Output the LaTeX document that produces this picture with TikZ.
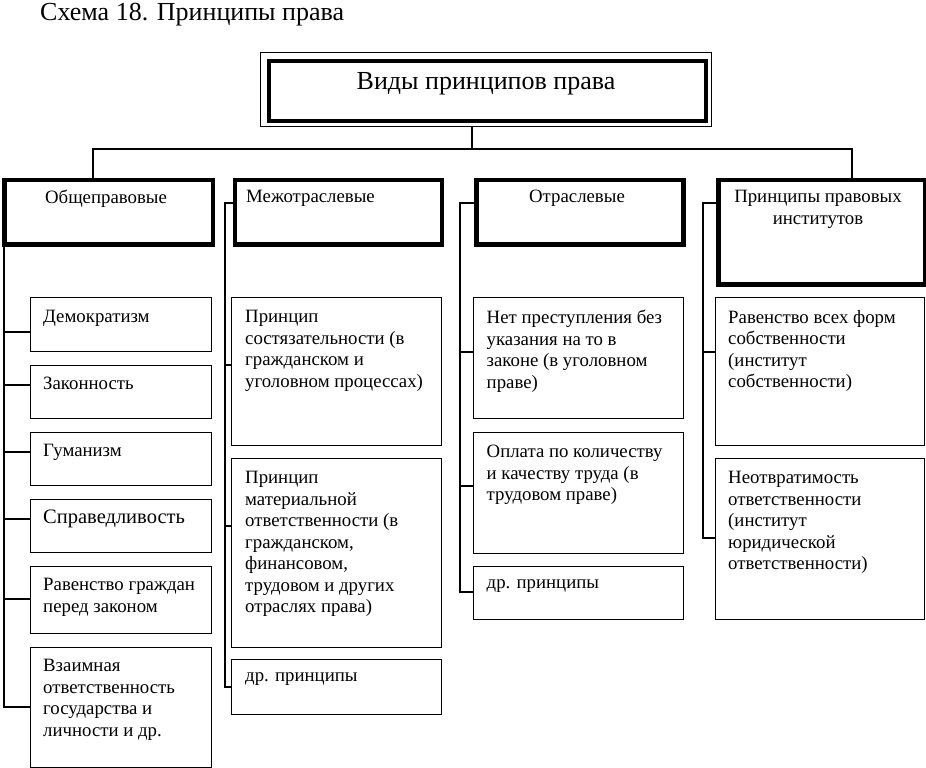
\documentclass[tikz,border=0pt]{standalone}
\usepackage{fontspec}
\setmainfont{Liberation Serif}
\usetikzlibrary{calc}
\tikzset{
  thinbox/.style={draw, line width=1.4pt, minimum width=#1, anchor=north west, inner sep=0pt},
  thickbox/.style={draw, line width=4.5pt, anchor=north west, inner sep=0pt},
  txt/.style={anchor=north west, inner sep=0pt, align=left, font=\fontsize{18.8}{21.5}\selectfont},
  ctxt/.style={anchor=north, inner sep=0pt, align=center, font=\fontsize{18.8}{21.5}\selectfont},
  conn/.style={line width=1.3pt},
}
\begin{document}
\begin{tikzpicture}[x=1pt,y=-1pt]
\useasboundingbox (0,0) rectangle (926,768);
% title
\node[anchor=north west, inner sep=0pt, font=\fontsize{26}{30}\selectfont] (title) at (40,3.5) {Схема 18. Принципы права};
% root
\node[draw, line width=1.2pt, anchor=north west, minimum width=451pt, minimum height=73.5pt, inner sep=0pt] (rootout) at (260,52.3) {};
\node[draw, line width=4pt, anchor=north west, minimum width=437.3pt, minimum height=60pt, inner sep=0pt] (root) at (267,58.7) {};
\node[anchor=center, inner sep=0pt, font=\fontsize{26}{30}\selectfont] (roottxt) at (486,84) {Виды принципов права};
% level 2
\node[thickbox, minimum width=208.5pt, minimum height=64.5pt] (a) at (2,177.5) {};
\node[thickbox, minimum width=207pt, minimum height=64.5pt] (b) at (232.5,177.5) {};
\node[thickbox, minimum width=207pt, minimum height=64.5pt] (c) at (474,177.5) {};
\node[thickbox, minimum width=206.7pt, minimum height=104.5pt] (d) at (716,177.5) {};
\node[ctxt] (at) at (106,190) {Общеправовые};
\node[txt] (bt) at (246,190) {Межотраслевые};
\node[ctxt] (ct) at (577,190) {Отраслевые};
\node[ctxt] (dt) at (818,190) {Принципы правовых\\институтов};
% root connectors
\coordinate (bus) at (472,149);
\draw[conn] (rootout.south -| bus) -- (bus);
\draw[conn] (a.north -| 93,0) |- (bus) -| (d.north -| 852,0);
\draw[conn] (b.north -| 342,0) -- (b.north -| 342,0 |- bus);
\draw[conn] (c.north -| 577,0) -- (c.north -| 577,0 |- bus);
% column 1
\node[thinbox=181pt, minimum height=54pt] (a1) at (30,297) {};
\node[thinbox=181pt, minimum height=53pt] (a2) at (30,365) {};
\node[thinbox=181pt, minimum height=53pt] (a3) at (30,432) {};
\node[thinbox=181pt, minimum height=53pt] (a4) at (30,499) {};
\node[thinbox=181pt, minimum height=67pt] (a5) at (30,566) {};
\node[thinbox=181pt, minimum height=120pt] (a6) at (30,647) {};
\node[txt] at ($(a1.north west)+(13,13)$) {Демократизм};
\node[txt] at ($(a2.north west)+(13,12)$) {Законность};
\node[txt] at ($(a3.north west)+(13,12)$) {Гуманизм};
\node[txt, font=\fontsize{20.5}{23}\selectfont] at ($(a4.north west)+(13,11)$) {Справедливость};
\node[txt] at ($(a5.north west)+(13,12)$) {Равенство граждан\\перед законом};
\node[txt] at ($(a6.north west)+(13,12)$) {Взаимная\\ответственность\\государства и\\личности и др.};
\coordinate (a0) at (4,244);
\draw[conn] (a0) -- (4,707) -- (a6.west |- 0,707);
\foreach \n/\y in {a1/332,a2/385,a3/452,a4/519,a5/599} \draw[conn] (4,\y) -- (\n.west |- 0,\y);
% column 2
\node[thinbox=210pt, minimum height=148pt] (b1) at (231,297) {};
\node[thinbox=210pt, minimum height=189pt] (b2) at (231,458) {};
\node[thinbox=210pt, minimum height=55pt] (b3) at (231,659) {};
\node[txt] at ($(b1.north west)+(14,13)$) {Принцип\\состязательности (в\\гражданском и\\уголовном процессах)};
\node[txt] at ($(b2.north west)+(14,13)$) {Принцип\\материальной\\ответственности (в\\гражданском,\\финансовом,\\трудовом и других\\отраслях права)};
\node[txt] at ($(b3.north west)+(14,13)$) {др. принципы};
\draw[conn] (b.west |- 0,203) -- (225,203) -- (225,687) -- (b3.west |- 0,687);
\foreach \n/\y in {b1/365,b2/526} \draw[conn] (225,\y) -- (\n.west |- 0,\y);
% column 3
\node[thinbox=210pt, minimum height=121pt] (c1) at (472.5,297) {};
\node[thinbox=210pt, minimum height=121pt] (c2) at (472.5,432) {};
\node[thinbox=210pt, minimum height=53pt] (c3) at (472.5,566) {};
\node[txt] at ($(c1.north west)+(14,13)$) {Нет преступления без\\указания на то в\\законе (в уголовном\\праве)};
\node[txt] at ($(c2.north west)+(14,13)$) {Оплата по количеству\\и качеству труда (в\\трудовом праве)};
\node[txt] at ($(c3.north west)+(14,13)$) {др. принципы};
\draw[conn] (c.west |- 0,203) -- (460,203) -- (460,592) -- (c3.west |- 0,592);
\foreach \n/\y in {c1/352,c2/486} \draw[conn] (460,\y) -- (\n.west |- 0,\y);
% column 4
\node[thinbox=209pt, minimum height=148pt] (d1) at (715,297) {};
\node[thinbox=209pt, minimum height=161pt] (d2) at (715,458) {};
\node[txt] at ($(d1.north west)+(13,13)$) {Равенство всех форм\\собственности\\(институт\\собственности)};
\node[txt] at ($(d2.north west)+(13,13)$) {Неотвратимость\\ответственности\\(институт\\юридической\\ответственности)};
\draw[conn] (d.west |- 0,203) -- (703,203) -- (703,538) -- (d2.west |- 0,538);
\draw[conn] (703,352) -- (d1.west |- 0,352);
\end{tikzpicture}
\end{document}
